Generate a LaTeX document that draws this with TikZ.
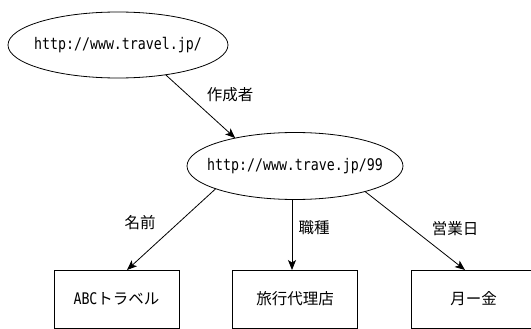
\documentclass[tikz,border=0pt]{standalone}
\usepackage{fontspec}
\newfontfamily\ja{Noto Sans CJK JP}
\newfontfamily\mono[FakeStretch=0.83]{DejaVu Sans Mono}
\usetikzlibrary{shapes.geometric,arrows.meta,calc}
\tikzset{
  res/.style={ellipse,draw,line width=0.8pt,inner sep=0pt,outer sep=0pt,
    font=\fontsize{16}{18}\selectfont\mono},
  lit/.style={rectangle,draw,line width=0.8pt,inner sep=0pt,outer sep=0pt,
    minimum width=125pt,minimum height=58pt,font=\fontsize{15.5}{18}\selectfont\ja},
  prop/.style={font=\fontsize{15.5}{18}\selectfont\ja,inner sep=0pt},
  rel/.style={line width=0.8pt,-{Stealth[length=10pt,width=8pt,inset=2.5pt]}}
}
\begin{document}
\begin{tikzpicture}[x=1pt,y=-1pt]
\useasboundingbox (0,0) rectangle (531,329);
\clip (0,0) rectangle (531,329);
\node[res,minimum width=220pt,minimum height=66pt] (e1) at (118,45) {\makebox[0pt]{http://www.travel.jp/}};
\node[res,minimum width=216pt,minimum height=67pt] (e2) at (295,166) {\makebox[0pt]{http://www.trave.jp/99}};
\node[lit] (b1) at (116.5,299) {{\mono\fontsize{16}{18}\selectfont ABC}トラベル};
\node[lit] (b2) at (295,299) {旅行代理店};
\node[lit] (b3) at (473.5,299) {月ー金};
\draw[rel] (e1.-32.5) -- (e2.155);
\draw[rel] (e2.196) -- ($(b1.north)+(10.5,0)$);
\draw[rel] ($(e2.south)+(-3,0)$) -- ($(b2.north)+(-3,0)$);
\draw[rel] (e2.-20.4) -- ($(b3.north)+(-8.5,0)$);
\node[prop] (l1) at (230,95) {作成者};
\node[prop] (l2) at (140,223) {名前};
\node[prop] (l3) at (314,228) {職種};
\node[prop] (l4) at (455,229) {営業日};
\end{tikzpicture}
\end{document}
